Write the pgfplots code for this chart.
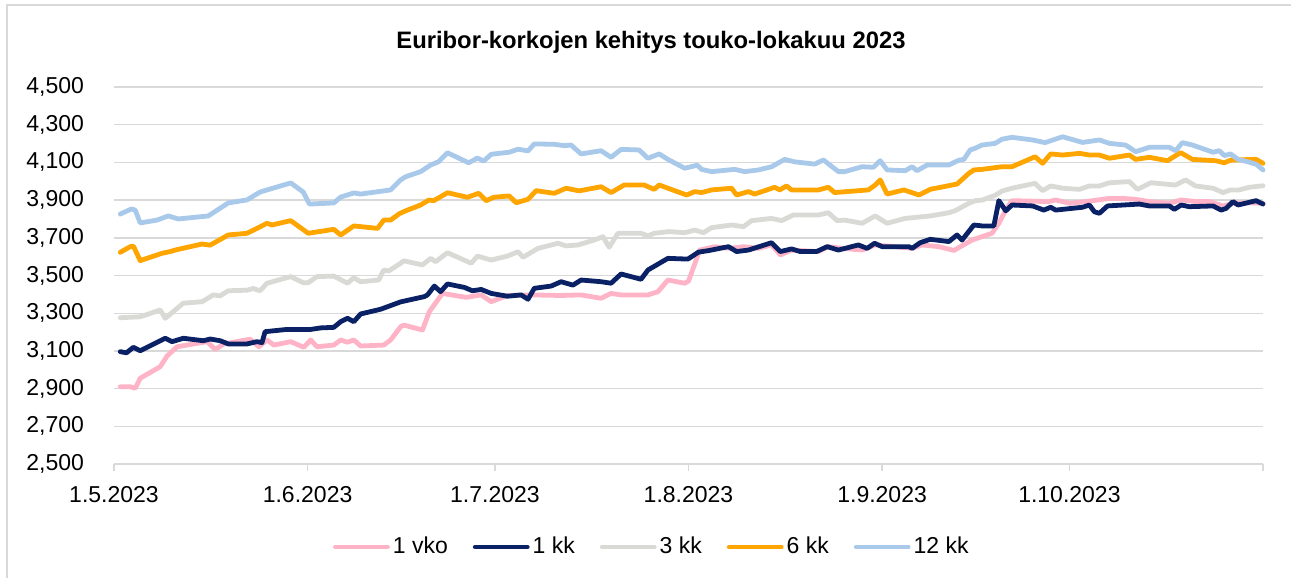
\documentclass[border=0pt]{standalone}
\usepackage{pgfplots}
\pgfplotsset{compat=1.18}
\usepackage{fontspec}
\setmainfont{Liberation Sans}
\definecolor{cvko}{HTML}{FFB3C6}
\definecolor{ckk}{HTML}{0A2265}
\definecolor{cthree}{HTML}{D9D9D6}
\definecolor{csix}{HTML}{FFA500}
\definecolor{ctwelve}{HTML}{A9C9EA}
\definecolor{cgrid}{HTML}{D9D9D9}
\begin{document}
\begin{tikzpicture}
\begin{axis}[
  at={(0,0)}, anchor=south west,
  scale only axis, width=574.5pt, height=188.5pt,
  xmin=0, xmax=184, ymin=2.5, ymax=4.5,
  clip=false,
  axis line style={draw=none},
  xtick={0,31,61,92,123,153,184},
  xticklabels={1.5.2023,1.6.2023,1.7.2023,1.8.2023,1.9.2023,1.10.2023,},
  ytick={2.5,2.7,2.9,3.1,3.3,3.5,3.7,3.9,4.1,4.3,4.5},
  xtick pos=bottom, tick align=outside, major tick length=3.5pt,
  xtick style={cgrid, line width=0.75pt},
  ytick style={draw=none},
  ymajorgrids, grid style={cgrid, line width=0.7pt},
  /pgf/number format/.cd, fixed, fixed zerofill, precision=3, use comma, assume math mode=true,
  /pgfplots/.cd,
  tick label style={font=\fontsize{11.5}{13}\selectfont},
  yticklabel style={anchor=east, xshift=-8pt},
  xticklabel style={anchor=north, yshift=-4pt},
  every axis plot/.append style={line width=2.4pt, line join=round, line cap=round},
  legend style={at={(0.4685,-0.2202)}, anchor=center, draw=none, fill=none,
    font=\fontsize{11.5}{13}\selectfont, legend columns=5,
    nodes={inner xsep=1.5pt},
    /tikz/every even column/.append style={column sep=11pt}},
  legend image code/.code={\draw[#1, line width=2.4pt, line cap=round] (0pt,0pt) -- (26pt,0pt);},
]
% 1 vko
\addplot[cvko] coordinates {
(1.0,2.910)(2.6,2.910)(3.4,2.902)(4.2,2.955)(7.4,3.016)(8.5,3.073)(10.1,3.122)(11.7,3.131)
(14.9,3.149)(16.2,3.108)(17.6,3.137)(21.8,3.162)(23.2,3.122)(24.5,3.158)(25.6,3.131)(28.3,3.149)
(30.4,3.119)(31.5,3.158)(32.5,3.122)(35.2,3.131)(36.3,3.158)(37.4,3.146)(38.4,3.158)(39.5,3.126)
(43.2,3.131)(44.3,3.158)(45.9,3.228)(46.4,3.237)(49.4,3.211)(50.5,3.308)(52.6,3.405)(56.4,3.384)
(58.8,3.397)(60.4,3.361)(63.0,3.394)(66.8,3.397)(71.6,3.394)(74.8,3.397)(78.0,3.379)(79.6,3.405)
(81.2,3.397)(85.5,3.397)(87.1,3.414)(88.7,3.476)(91.4,3.459)(92.0,3.470)(93.8,3.635)(96.2,3.653)
(98.6,3.644)(100.8,3.653)(103.2,3.644)(105.3,3.662)(106.7,3.609)(108.5,3.635)(112.8,3.627)(114.4,3.653)
(116.6,3.644)(119.8,3.635)(121.9,3.662)(125.1,3.653)(127.8,3.644)(129.4,3.662)(132.1,3.653)(134.5,3.633)
(137.4,3.688)(140.6,3.724)(141.7,3.777)(142.8,3.847)(143.8,3.897)(149.7,3.892)(150.8,3.901)(153.0,3.883)
(155.6,3.892)(159.4,3.909)(161.5,3.909)(163.6,3.904)(165.8,3.892)(169.0,3.883)(170.9,3.901)(173.3,3.892)
(175.4,3.892)(177.6,3.869)(179.2,3.883)(181.8,3.886)(184.0,3.883)
};
\addlegendentry{1 vko}
% 1 kk
\addplot[ckk] coordinates {
(1.0,3.096)(2.0,3.090)(3.1,3.119)(4.2,3.101)(7.1,3.149)(8.2,3.167)(9.3,3.149)(11.1,3.167)
(14.3,3.154)(15.4,3.163)(17.0,3.154)(18.3,3.137)(21.3,3.137)(22.9,3.149)(23.7,3.144)(24.2,3.202)
(27.7,3.214)(31.5,3.214)(33.1,3.222)(35.2,3.225)(36.3,3.255)(37.4,3.273)(38.4,3.255)(39.5,3.296)
(42.2,3.317)(42.7,3.321)(45.9,3.360)(49.7,3.388)(50.2,3.397)(51.3,3.444)(52.3,3.414)(53.4,3.455)
(56.1,3.437)(57.4,3.419)(58.8,3.426)(60.4,3.405)(63.0,3.390)(65.2,3.397)(66.3,3.374)(67.3,3.432)
(70.0,3.444)(71.6,3.467)(73.5,3.449)(74.8,3.476)(78.0,3.467)(79.6,3.459)(81.2,3.508)(84.4,3.480)
(85.5,3.529)(88.7,3.591)(91.9,3.587)(93.6,3.624)(95.2,3.632)(98.4,3.653)(99.7,3.627)(101.6,3.635)
(105.3,3.674)(106.7,3.627)(108.5,3.641)(109.9,3.627)(112.5,3.627)(114.2,3.653)(116.0,3.635)(119.2,3.662)
(120.6,3.644)(121.8,3.671)(123.0,3.653)(127.3,3.653)(127.8,3.644)(129.1,3.674)(130.7,3.692)(133.7,3.680)
(135.0,3.715)(135.8,3.688)(137.7,3.768)(139.0,3.763)(140.9,3.763)(141.7,3.897)(142.8,3.843)(143.8,3.874)
(147.1,3.869)(148.9,3.847)(150.0,3.862)(150.8,3.847)(155.1,3.862)(156.2,3.874)(157.0,3.838)(157.8,3.830)
(159.1,3.869)(164.2,3.879)(165.8,3.869)(169.0,3.869)(169.8,3.851)(170.9,3.874)(172.2,3.865)(176.0,3.869)
(177.3,3.847)(178.1,3.856)(179.2,3.892)(180.0,3.874)(182.9,3.897)(184.0,3.879)
};
\addlegendentry{1 kk}
% 3 kk
\addplot[cthree] coordinates {
(1.0,3.276)(4.2,3.281)(7.4,3.317)(8.2,3.273)(11.1,3.353)(14.1,3.361)(15.9,3.397)(17.0,3.392)
(18.3,3.419)(21.3,3.422)(22.3,3.431)(23.4,3.419)(24.5,3.459)(28.3,3.494)(30.3,3.462)(31.1,3.462)
(32.5,3.494)(35.2,3.497)(37.4,3.459)(38.4,3.488)(39.5,3.467)(42.4,3.476)(43.2,3.529)(44.0,3.524)
(45.9,3.565)(46.4,3.578)(49.4,3.556)(50.7,3.591)(51.5,3.573)(53.4,3.621)(57.2,3.565)(58.2,3.603)
(60.4,3.582)(63.0,3.603)(64.7,3.626)(65.5,3.597)(67.9,3.644)(71.1,3.671)(72.4,3.657)(74.3,3.662)
(76.9,3.688)(78.3,3.706)(79.3,3.650)(80.7,3.724)(84.4,3.724)(85.5,3.710)(86.5,3.724)(88.9,3.733)
(91.4,3.727)(93.0,3.741)(94.4,3.727)(95.7,3.754)(98.9,3.768)(100.8,3.759)(102.1,3.791)(105.3,3.803)
(106.9,3.791)(108.8,3.821)(112.8,3.821)(114.4,3.833)(115.8,3.791)(117.0,3.794)(119.8,3.777)(121.9,3.816)
(123.8,3.777)(126.7,3.803)(128.3,3.808)(130.7,3.816)(133.7,3.833)(134.7,3.844)(136.9,3.883)(137.9,3.897)
(139.0,3.900)(141.1,3.925)(142.2,3.948)(143.8,3.963)(147.5,3.989)(148.7,3.950)(150.0,3.975)(151.9,3.963)
(154.6,3.957)(156.2,3.975)(157.8,3.975)(159.4,3.992)(162.6,3.998)(163.9,3.957)(166.0,3.992)(170.0,3.980)
(171.6,4.007)(173.2,3.975)(176.0,3.963)(177.6,3.940)(178.8,3.954)(180.2,3.954)(181.8,3.968)(184.0,3.976)
};
\addlegendentry{3 kk}
% 6 kk
\addplot[csix] coordinates {
(1.0,3.623)(2.6,3.653)(3.1,3.656)(4.2,3.579)(7.7,3.618)(9.0,3.627)(9.8,3.635)(14.1,3.667)
(15.4,3.661)(18.3,3.715)(21.3,3.724)(22.9,3.750)(24.5,3.777)(25.3,3.768)(28.3,3.791)(31.1,3.724)
(35.2,3.745)(36.3,3.715)(38.4,3.763)(42.2,3.750)(43.2,3.794)(44.3,3.794)(45.7,3.828)(47.0,3.847)
(49.1,3.874)(50.4,3.900)(51.2,3.897)(53.4,3.939)(56.6,3.915)(58.4,3.936)(59.6,3.897)(60.8,3.915)
(63.3,3.922)(64.4,3.886)(66.3,3.904)(67.6,3.950)(70.5,3.936)(72.4,3.963)(74.5,3.949)(78.0,3.971)
(79.6,3.940)(81.7,3.980)(84.9,3.980)(86.5,3.957)(87.3,3.980)(91.7,3.927)(93.0,3.945)(94.1,3.940)
(95.7,3.954)(98.9,3.963)(99.7,3.927)(101.6,3.945)(102.6,3.932)(105.8,3.968)(106.6,3.954)(107.7,3.975)
(108.5,3.954)(112.8,3.954)(114.4,3.968)(115.4,3.940)(120.8,3.954)(121.9,3.980)(122.7,4.007)(123.8,3.932)
(126.5,3.954)(128.9,3.927)(130.7,3.957)(134.2,3.980)(135.0,3.985)(136.9,4.042)(137.7,4.060)(139.0,4.063)
(142.2,4.077)(143.8,4.077)(147.5,4.130)(148.7,4.095)(150.0,4.145)(151.9,4.139)(154.6,4.148)(156.2,4.139)
(157.8,4.139)(159.4,4.122)(162.6,4.139)(163.6,4.116)(165.8,4.127)(168.7,4.109)(170.8,4.152)(172.7,4.116)
(176.4,4.109)(177.8,4.098)(178.8,4.112)(182.4,4.116)(182.9,4.116)(184.0,4.095)
};
\addlegendentry{6 kk}
% 12 kk
\addplot[ctwelve] coordinates {
(1.0,3.826)(2.8,3.853)(3.4,3.847)(4.2,3.779)(6.9,3.794)(8.7,3.816)(10.3,3.800)(15.1,3.816)
(18.3,3.885)(21.3,3.901)(23.4,3.943)(28.3,3.991)(30.3,3.943)(31.3,3.879)(35.2,3.885)(36.3,3.916)
(38.4,3.938)(39.5,3.932)(44.3,3.954)(45.9,4.007)(46.7,4.024)(49.1,4.051)(50.7,4.086)(52.0,4.104)
(53.4,4.151)(56.8,4.098)(58.2,4.123)(59.2,4.107)(60.4,4.143)(63.3,4.154)(64.7,4.170)(66.3,4.161)
(67.3,4.198)(70.5,4.196)(72.1,4.189)(73.2,4.192)(74.8,4.145)(78.0,4.162)(79.6,4.127)(81.2,4.169)
(84.1,4.166)(85.5,4.122)(87.3,4.145)(88.7,4.116)(91.4,4.069)(93.4,4.085)(94.1,4.063)(95.7,4.051)
(99.4,4.063)(101.0,4.051)(103.2,4.060)(105.3,4.077)(107.4,4.116)(109.0,4.103)(112.2,4.091)(113.6,4.113)
(116.0,4.051)(117.0,4.051)(119.8,4.077)(121.6,4.074)(122.7,4.109)(123.8,4.060)(126.7,4.056)(127.8,4.077)
(128.6,4.056)(130.2,4.086)(133.7,4.086)(135.3,4.112)(136.1,4.116)(137.1,4.166)(137.9,4.175)(139.0,4.192)
(141.1,4.201)(142.2,4.223)(143.8,4.233)(147.1,4.219)(149.1,4.205)(151.9,4.236)(155.1,4.206)(157.8,4.219)
(159.4,4.201)(162.0,4.192)(163.6,4.157)(165.8,4.180)(169.0,4.180)(170.0,4.162)(171.1,4.205)(172.7,4.192)
(176.0,4.154)(177.0,4.162)(177.8,4.136)(178.8,4.145)(180.0,4.116)(181.8,4.101)(182.9,4.090)(184.0,4.060)
};
\addlegendentry{12 kk}
\end{axis}
\node[font=\fontsize{11.9}{13}\selectfont\bfseries] at (268.5pt,211pt) {Euribor-korkojen kehitys touko-lokakuu 2023};
\draw[cgrid, line width=0.8pt] (-53.5pt,-60pt) -- (-53.5pt,229.5pt) -- (600pt,229.5pt);
\pgfresetboundingbox
\useasboundingbox (-57pt,-57pt) rectangle (588.5pt,232pt);
\end{tikzpicture}
\end{document}
